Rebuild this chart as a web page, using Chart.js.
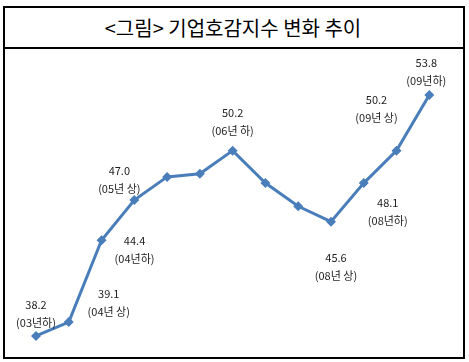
<!DOCTYPE html>
<html>
<head>
<meta charset="utf-8">
<script src="https://cdn.jsdelivr.net/npm/chart.js@4"></script>
<style>
  html, body { margin: 0; padding: 0; background: #fff; }
  #wrap { position: relative; width: 469px; height: 362px; overflow: hidden; }
  #box { position: absolute; left: 3px; top: 6px; width: 458px; height: 349px; border: 2px solid #000; }
  #title { position: absolute; left: 3px; top: 6px; width: 460px; height: 41px; border-bottom: 2px solid #000;
           font: 20px "Noto Sans CJK KR", sans-serif; color: #000; text-align: center; line-height: 43px; }
  #chart { position: absolute; left: 0; top: 0; }
</style>
</head>
<body>
<div id="wrap">
  <div id="box"></div>
  <div id="title">&lt;그림&gt; 기업호감지수 변화 추이</div>
  <canvas id="chart" width="469" height="362"></canvas>
</div>
<script>
var periods = ['03년하', '04년 상', '04년하', '05년 상', '05년 하', '06년 상', '06년 하',
               '07년 상', '07년 하', '08년 상', '08년하', '09년 상', '09년하'];
var values = [38.2, 39.1, 44.4, 47.0, 48.5, 48.7, 50.2, 48.1, 46.6, 45.6, 48.1, 50.2, 53.8];
// which points carry a value label
var labeled = [0, 1, 2, 3, 6, 9, 10, 11, 12];

// label placement relative to the point (value line; period line sits 18px lower)
var labelPlace = {
  0: [0, -31], 1: [40, -28], 2: [33, 1], 3: [-15, -29], 6: [0, -38],
  9: [5, 36], 10: [24, 20], 11: [-20, -51], 12: [-3, -32]
};

var color = '#4A7EBB';

var pointLabels = {
  id: 'pointLabels',
  afterDatasetsDraw: function(chart) {
    var ctx = chart.ctx;
    var meta = chart.getDatasetMeta(0);
    ctx.save();
    ctx.fillStyle = '#222';
    ctx.textAlign = 'center';
    ctx.textBaseline = 'middle';
    ctx.font = '11px "Noto Sans CJK KR", sans-serif';
    for (var k = 0; k < labeled.length; k++) {
      var i = labeled[k];
      var p = meta.data[i];
      var off = labelPlace[i];
      ctx.fillText(values[i].toFixed(1), p.x + off[0], p.y + off[1]);
      ctx.fillText('(' + periods[i] + ')', p.x + off[0], p.y + off[1] + 18);
    }
    ctx.restore();
  }
};

const data = {
  labels: periods,
  datasets: [{
    data: values,
    borderColor: color,
    backgroundColor: color,
    borderWidth: 3,
    pointStyle: 'rectRot',
    pointRadius: 5,
    pointBorderWidth: 0,
    tension: 0,
    clip: false
  }]
};

const config = {
  type: 'line',
  data: data,
  options: {
    responsive: false,
    animation: false,
    layout: { padding: { left: 36, right: 39.7, top: 76.5, bottom: 7.5 } },
    plugins: { legend: { display: false }, tooltip: { enabled: false } },
    scales: {
      x: { display: false },
      y: { display: false, min: 37, max: 55 }
    }
  },
  plugins: [pointLabels]
};

const myChart = new Chart(document.getElementById('chart'), config);
</script>
</body>
</html>
